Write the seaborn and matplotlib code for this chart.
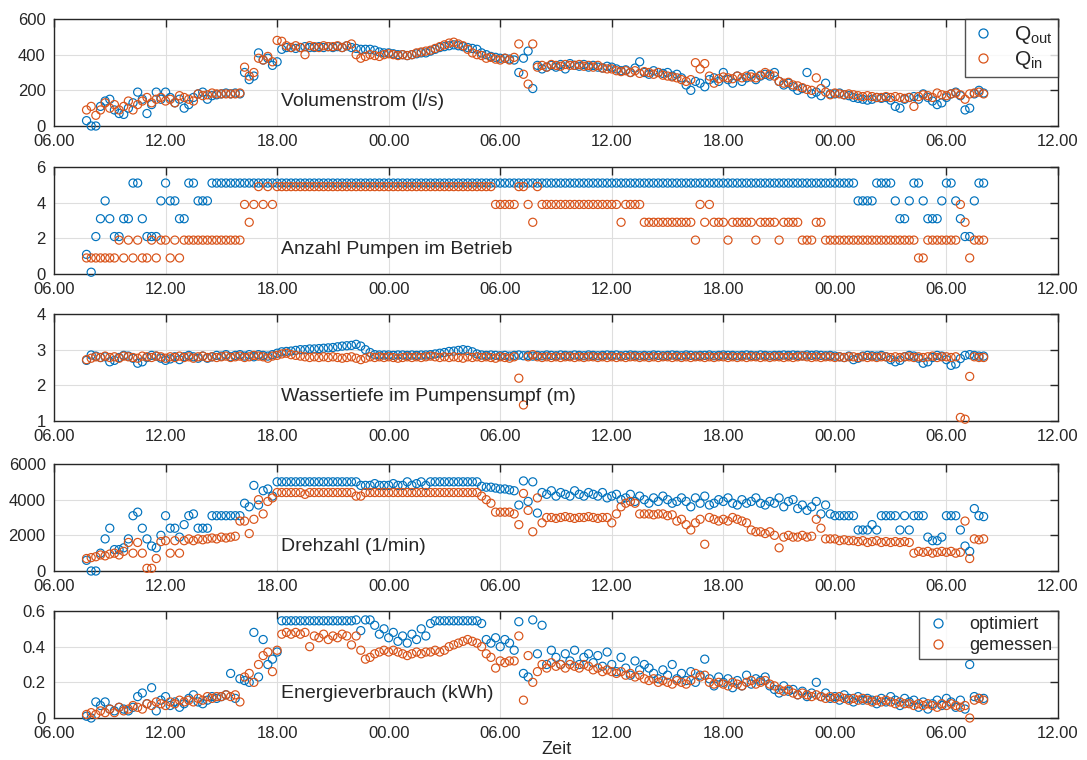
import numpy as np
import matplotlib
matplotlib.use("Agg")
import matplotlib.pyplot as plt
from matplotlib.lines import Line2D
import seaborn as sns

# ---------------------------------------------------------------------------
# Measured / optimised pump-station data, one sample every 15 minutes,
# time in hours counted from 00.00 of the first day.
# ---------------------------------------------------------------------------
T_START = 7.75
T_STEP = 0.25

Q_OUT = [30,
         0, 0, 110, 140, 150, 90, 70, 65, 100, 130, 190, 150, 70, 120, 190, 150,
         190, 160, 130, 150, 100, 120, 160, 180, 190, 150, 170, 175, 180, 185, 180, 185,
         180, 300, 260, 280, 410, 370, 380, 340, 360, 430, 440, 440, 435, 440, 445, 440,
         440, 445, 440, 445, 440, 445, 440, 450, 440, 435, 430, 430, 430, 425, 415, 410,
         410, 405, 400, 400, 395, 400, 405, 410, 410, 420, 430, 440, 445, 450, 455, 450,
         445, 440, 435, 430, 410, 400, 390, 385, 380, 380, 375, 370, 300, 380, 420, 210,
         340, 320, 330, 340, 330, 345, 320, 350, 340, 335, 345, 330, 340, 330, 325, 335,
         330, 320, 310, 315, 300, 325, 360, 300, 290, 310, 300, 295, 300, 280, 290, 270,
         230, 200, 250, 240, 220, 260, 270, 250, 300, 260, 240, 280, 250, 270, 290, 260,
         280, 290, 280, 300, 250, 230, 240, 220, 200, 210, 300, 180, 190, 170, 240, 180,
         180, 185, 175, 170, 160, 155, 150, 145, 150, 160, 155, 160, 145, 110, 100, 150,
         160, 165, 150, 180, 160, 140, 120, 130, 160, 180, 190, 170, 90, 100, 180, 200,
         185]

Q_IN = [90,
        110, 60, 90, 130, 100, 120, 90, 110, 140, 90, 120, 140, 160, 130, 150, 160,
        140, 150, 130, 170, 160, 150, 140, 180, 170, 175, 185, 180, 180, 180, 180, 180,
        185, 330, 280, 300, 380, 370, 390, 360, 480, 475, 450, 440, 450, 440, 400, 450,
        445, 440, 450, 445, 445, 450, 440, 450, 460, 400, 380, 390, 400, 395, 390, 400,
        405, 400, 395, 400, 395, 400, 410, 415, 420, 425, 435, 445, 455, 465, 470, 460,
        450, 430, 410, 400, 395, 380, 385, 375, 370, 380, 370, 385, 460, 290, 235, 460,
        330, 340, 330, 345, 340, 335, 345, 340, 340, 345, 335, 340, 330, 340, 325, 320,
        320, 310, 305, 310, 300, 310, 295, 305, 300, 290, 300, 285, 280, 275, 270, 260,
        250, 260, 355, 320, 350, 280, 240, 265, 275, 270, 265, 280, 270, 280, 275, 270,
        285, 300, 290, 280, 250, 240, 245, 230, 225, 215, 205, 200, 270, 210, 190, 175,
        185, 180, 175, 180, 175, 170, 165, 170, 165, 160, 160, 165, 160, 165, 160, 155,
        160, 110, 165, 175, 170, 160, 185, 175, 170, 180, 185, 175, 150, 180, 185, 190,
        180]

# Number of pumps running, stored as (count, number of consecutive samples)
PUMPS_OUT_RUNS = [(1, 1), (0, 1), (2, 1), (3, 1), (4, 1), (3, 1), (2, 2), (3, 2),
                  (5, 2), (3, 1), (2, 3), (4, 1), (5, 1), (4, 2), (3, 2), (5, 2),
                  (4, 3), (5, 139), (4, 4), (5, 4), (4, 1), (3, 2), (4, 1), (5, 2),
                  (4, 1), (3, 3), (4, 1), (5, 2), (4, 1), (3, 1), (2, 2), (4, 1),
                  (5, 2)]

PUMPS_IN_RUNS = [(1, 7), (2, 1), (1, 1), (2, 1), (1, 1), (2, 1), (1, 2), (2, 1),
                 (1, 1), (2, 2), (1, 1), (2, 1), (1, 1), (2, 13), (4, 1), (3, 1),
                 (4, 1), (5, 1), (4, 1), (5, 1), (4, 1), (5, 47), (4, 5), (5, 2),
                 (4, 1), (3, 1), (5, 1), (4, 17), (3, 1), (4, 4), (3, 11), (2, 1),
                 (4, 1), (3, 1), (4, 1), (3, 3), (2, 1), (3, 5), (2, 1), (3, 4),
                 (2, 1), (3, 4), (2, 3), (3, 2), (2, 20), (1, 2), (2, 7), (4, 1),
                 (3, 1), (1, 1), (2, 3)]

DEPTH_OUT = [2.70,
             2.85, 2.82, 2.78, 2.80, 2.66, 2.70, 2.78, 2.84, 2.82, 2.76, 2.62, 2.66,
             2.78, 2.84, 2.82, 2.76, 2.70, 2.74, 2.80, 2.72, 2.80, 2.84, 2.80, 2.76,
             2.82, 2.76, 2.80, 2.84, 2.82, 2.86, 2.80, 2.84, 2.86, 2.82, 2.86, 2.80,
             2.86, 2.84, 2.82, 2.86, 2.90, 2.94, 2.95, 2.96, 2.98, 3.00, 3.00, 3.02,
             3.02, 3.03, 3.04, 3.05, 3.06, 3.08, 3.10, 3.11, 3.12, 3.15, 3.10, 3.00,
             2.92, 2.86, 2.85, 2.85, 2.85, 2.84, 2.85, 2.85, 2.84, 2.85, 2.84, 2.85,
             2.85, 2.86, 2.88, 2.90, 2.92, 2.95, 2.96, 2.98, 3.00, 2.98, 2.94, 2.88,
             2.85, 2.84, 2.85, 2.84, 2.83, 2.84, 2.82, 2.84, 2.85, 2.83, 2.84, 2.82,
             2.84, 2.83, 2.85, 2.84, 2.83, 2.85, 2.84, 2.83, 2.85, 2.84, 2.83, 2.85,
             2.84, 2.83, 2.84, 2.85, 2.84, 2.85, 2.83, 2.84, 2.85, 2.84, 2.83, 2.84,
             2.83, 2.85, 2.84, 2.83, 2.84, 2.85, 2.84, 2.83, 2.85, 2.84, 2.83, 2.84,
             2.84, 2.85, 2.83, 2.84, 2.85, 2.84, 2.84, 2.83, 2.84, 2.85, 2.84, 2.83,
             2.85, 2.84, 2.83, 2.84, 2.84, 2.85, 2.84, 2.85, 2.84, 2.83, 2.85, 2.84,
             2.85, 2.84, 2.83, 2.84, 2.82, 2.80, 2.78, 2.82, 2.72, 2.76, 2.82, 2.84,
             2.83, 2.82, 2.84, 2.80, 2.72, 2.66, 2.70, 2.80, 2.84, 2.82, 2.76, 2.62,
             2.66, 2.78, 2.84, 2.82, 2.72, 2.56, 2.60, 2.75, 2.84, 2.86, 2.84, 2.82,
             2.82]

DEPTH_IN = [2.72,
            2.76, 2.80, 2.78, 2.82, 2.78, 2.80, 2.76, 2.82, 2.80, 2.78, 2.76, 2.82,
            2.80, 2.78, 2.82, 2.80, 2.76, 2.80, 2.78, 2.82, 2.78, 2.80, 2.76, 2.80,
            2.82, 2.78, 2.80, 2.78, 2.80, 2.82, 2.78, 2.80, 2.82, 2.78, 2.80, 2.84,
            2.82, 2.80, 2.76, 2.82, 2.84, 2.88, 2.90, 2.86, 2.84, 2.82, 2.80, 2.78,
            2.80, 2.78, 2.80, 2.78, 2.80, 2.78, 2.76, 2.78, 2.80, 2.76, 2.72, 2.76,
            2.80, 2.78, 2.80, 2.78, 2.80, 2.78, 2.76, 2.78, 2.80, 2.78, 2.80, 2.78,
            2.80, 2.82, 2.80, 2.78, 2.80, 2.78, 2.80, 2.78, 2.76, 2.80, 2.78, 2.80,
            2.78, 2.80, 2.78, 2.76, 2.80, 2.78, 2.76, 2.80, 2.20, 1.45, 2.80, 2.86,
            2.80, 2.78, 2.80, 2.78, 2.80, 2.78, 2.80, 2.80, 2.78, 2.80, 2.78, 2.80,
            2.80, 2.78, 2.80, 2.78, 2.80, 2.78, 2.80, 2.78, 2.80, 2.80, 2.78, 2.80,
            2.78, 2.80, 2.78, 2.80, 2.80, 2.78, 2.80, 2.78, 2.80, 2.78, 2.80, 2.80,
            2.78, 2.80, 2.78, 2.80, 2.80, 2.78, 2.80, 2.78, 2.80, 2.78, 2.80, 2.80,
            2.78, 2.80, 2.78, 2.80, 2.80, 2.78, 2.80, 2.78, 2.80, 2.82, 2.80, 2.78,
            2.80, 2.78, 2.80, 2.80, 2.78, 2.80, 2.78, 2.80, 2.80, 2.78, 2.80, 2.78,
            2.80, 2.78, 2.80, 2.80, 2.78, 2.80, 2.78, 2.80, 2.80, 2.78, 2.80, 2.78,
            2.80, 2.82, 2.78, 2.80, 2.80, 2.78, 2.80, 1.10, 1.05, 2.25, 2.80, 2.78,
            2.78]

RPM_OUT = [600,
           0, 0, 1000, 1800, 2400, 1200, 1200, 1300, 1800, 3100, 3300, 2400,
           1800, 1400, 1300, 2000, 3100, 2400, 2400, 1900, 2600, 3100, 3200, 2400,
           2400, 2400, 3100, 3100, 3100, 3100, 3100, 3100, 3100, 3800, 3600, 4800,
           3700, 4500, 4600, 4200, 5000, 5000, 5000, 5000, 5000, 5000, 5000, 5000,
           5000, 5000, 5000, 5000, 5000, 5000, 5000, 5000, 5000, 5000, 4800, 4800,
           4800, 4900, 4800, 4800, 4800, 4900, 4800, 4800, 5000, 4800, 4900, 5000,
           4800, 5000, 5000, 5000, 5000, 5000, 5000, 5000, 5000, 5000, 5000, 5000,
           4750, 4700, 4700, 4650, 4600, 4600, 4550, 4500, 3700, 5050, 3900, 5000,
           3250, 4400, 4300, 4500, 4200, 4400, 4300, 4200, 4500, 4300, 4200, 4400,
           4300, 4200, 4400, 4100, 4200, 4300, 4000, 4100, 4300, 3900, 4200, 4000,
           3800, 4100, 3900, 4200, 4000, 3800, 3900, 4100, 3900, 3600, 4100, 3800,
           4200, 3700, 3800, 4000, 3900, 4100, 3800, 3700, 4000, 3800, 3900, 4100,
           3800, 3700, 3900, 3800, 4100, 3600, 3900, 4000, 3500, 3700, 3400, 3600,
           3900, 3200, 3700, 3200, 3100, 3100, 3100, 3100, 3100, 2300, 2300, 2300,
           2600, 2300, 3100, 3100, 3100, 3100, 2300, 3100, 2300, 3100, 3100, 3100,
           1900, 1700, 1700, 1900, 3100, 3100, 3100, 2300, 1400, 1100, 3500, 3100,
           3050]

RPM_IN = [700,
          750, 800, 900, 850, 950, 1000, 900, 1100, 1600, 1000, 1600, 1000,
          150, 150, 700, 1650, 1700, 1000, 1700, 1000, 1700, 1800, 1700, 1800,
          1750, 1800, 1850, 1800, 1900, 1850, 1900, 1950, 2800, 2800, 2100, 2900,
          4000, 3200, 3900, 4100, 4400, 4400, 4400, 4400, 4400, 4400, 4300, 4400,
          4400, 4400, 4400, 4400, 4400, 4400, 4400, 4400, 4400, 4200, 4200, 4400,
          4400, 4400, 4400, 4400, 4400, 4400, 4400, 4400, 4400, 4400, 4400, 4400,
          4400, 4400, 4400, 4400, 4400, 4400, 4400, 4400, 4400, 4400, 4400, 4400,
          4200, 4000, 3800, 3300, 3300, 3300, 3300, 3200, 2600, 4350, 3400, 2200,
          4100, 2700, 3000, 3000, 2950, 3000, 3050, 3000, 2950, 3000, 3000, 3050,
          3000, 2950, 3000, 3000, 2700, 3200, 3600, 3800, 3900, 3800, 3200, 3200,
          3200, 3150, 3200, 3200, 3100, 3150, 2800, 2900, 2600, 2300, 2700, 2900,
          1500, 3000, 2900, 2800, 2900, 2800, 3000, 2900, 2800, 2700, 2300, 2200,
          2200, 2100, 2200, 2000, 1300, 1900, 2000, 1900, 1900, 2000, 1900, 1950,
          2900, 2400, 1800, 1800, 1800, 1700, 1750, 1700, 1700, 1650, 1700, 1600,
          1650, 1700, 1600, 1650, 1600, 1650, 1600, 1650, 1600, 1000, 1100, 1050,
          1100, 1000, 1050, 1100, 1050, 1100, 1000, 1050, 2800, 700, 1800, 1750,
          1800]

ENERGY_OUT = [0.01,
              0.00, 0.09, 0.07, 0.09, 0.05, 0.04, 0.06, 0.05, 0.04, 0.06, 0.12, 0.14,
              0.08, 0.17, 0.04, 0.10, 0.12, 0.07, 0.09, 0.06, 0.08, 0.11, 0.13, 0.09,
              0.08, 0.10, 0.12, 0.11, 0.12, 0.13, 0.25, 0.11, 0.22, 0.21, 0.20, 0.48,
              0.23, 0.44, 0.30, 0.33, 0.37, 0.545, 0.545, 0.545, 0.545, 0.545, 0.545, 0.545,
              0.545, 0.545, 0.545, 0.545, 0.545, 0.545, 0.545, 0.545, 0.545, 0.55, 0.49, 0.55,
              0.55, 0.52, 0.47, 0.50, 0.45, 0.48, 0.43, 0.46, 0.42, 0.47, 0.44, 0.50,
              0.46, 0.53, 0.545, 0.545, 0.545, 0.545, 0.545, 0.545, 0.545, 0.545, 0.545, 0.545,
              0.53, 0.44, 0.42, 0.45, 0.40, 0.44, 0.42, 0.38, 0.54, 0.25, 0.23, 0.55,
              0.36, 0.52, 0.30, 0.38, 0.34, 0.30, 0.36, 0.32, 0.38, 0.30, 0.34, 0.36,
              0.31, 0.35, 0.29, 0.37, 0.30, 0.26, 0.34, 0.28, 0.24, 0.32, 0.27, 0.30,
              0.28, 0.25, 0.22, 0.27, 0.24, 0.30, 0.22, 0.25, 0.21, 0.26, 0.20, 0.24,
              0.33, 0.22, 0.18, 0.23, 0.20, 0.22, 0.17, 0.21, 0.18, 0.24, 0.19, 0.22,
              0.21, 0.23, 0.18, 0.16, 0.14, 0.18, 0.15, 0.16, 0.13, 0.15, 0.12, 0.14,
              0.20, 0.12, 0.14, 0.11, 0.12, 0.10, 0.13, 0.11, 0.09, 0.12, 0.10, 0.11,
              0.10, 0.08, 0.11, 0.09, 0.12, 0.10, 0.07, 0.11, 0.09, 0.10, 0.06, 0.09,
              0.05, 0.08, 0.10, 0.07, 0.11, 0.09, 0.06, 0.10, 0.05, 0.30, 0.12, 0.11,
              0.11]

ENERGY_IN = [0.02,
             0.03, 0.02, 0.04, 0.03, 0.05, 0.03, 0.06, 0.04, 0.05, 0.07, 0.06, 0.05,
             0.08, 0.07, 0.09, 0.08, 0.07, 0.09, 0.08, 0.10, 0.09, 0.10, 0.09, 0.11,
             0.10, 0.12, 0.11, 0.12, 0.12, 0.13, 0.12, 0.13, 0.09, 0.23, 0.25, 0.20,
             0.30, 0.35, 0.37, 0.26, 0.38, 0.47, 0.48, 0.47, 0.48, 0.47, 0.48, 0.40,
             0.46, 0.45, 0.47, 0.44, 0.46, 0.45, 0.47, 0.46, 0.41, 0.46, 0.38, 0.33,
             0.34, 0.36, 0.37, 0.38, 0.37, 0.38, 0.37, 0.36, 0.35, 0.36, 0.37, 0.36,
             0.37, 0.37, 0.38, 0.37, 0.38, 0.40, 0.41, 0.42, 0.43, 0.44, 0.43, 0.42,
             0.40, 0.36, 0.34, 0.28, 0.32, 0.31, 0.32, 0.32, 0.46, 0.10, 0.35, 0.20,
             0.26, 0.30, 0.28, 0.31, 0.29, 0.30, 0.28, 0.30, 0.29, 0.28, 0.30, 0.29,
             0.27, 0.28, 0.26, 0.27, 0.26, 0.25, 0.26, 0.24, 0.25, 0.23, 0.24, 0.22,
             0.21, 0.22, 0.20, 0.21, 0.20, 0.19, 0.21, 0.20, 0.19, 0.21, 0.25, 0.23,
             0.24, 0.20, 0.19, 0.20, 0.19, 0.18, 0.20, 0.19, 0.18, 0.20, 0.21, 0.19,
             0.20, 0.21, 0.19, 0.18, 0.16, 0.15, 0.16, 0.14, 0.13, 0.14, 0.13, 0.12,
             0.13, 0.12, 0.11, 0.12, 0.11, 0.12, 0.11, 0.10, 0.11, 0.10, 0.11, 0.10,
             0.09, 0.10, 0.09, 0.10, 0.09, 0.08, 0.09, 0.08, 0.08, 0.07, 0.08, 0.07,
             0.08, 0.07, 0.06, 0.08, 0.07, 0.08, 0.07, 0.06, 0.07, 0.00, 0.10, 0.11,
             0.10]

PANEL_TITLES = ["Volumenstrom (l/s)", "Anzahl Pumpen im Betrieb",
                "Wassertiefe im Pumpensumpf (m)", "Drehzahl (1/min)",
                "Energieverbrauch (kWh)"]
Y_LIMITS = [(0, 600), (0, 6), (1, 4), (0, 6000), (0, 0.6)]
Y_TICKS = [[0, 200, 400, 600], [0, 2, 4, 6], [1, 2, 3, 4],
           [0, 2000, 4000, 6000], [0, 0.2, 0.4, 0.6]]
Y_TICK_LABELS = [["0", "200", "400", "600"], ["0", "2", "4", "6"],
                 ["1", "2", "3", "4"], ["0", "2000", "4000", "6000"],
                 ["0", "0.2", "0.4", "0.6"]]
X_TICKS = [6, 12, 18, 24, 30, 36, 42, 48, 54, 60]
X_TICK_LABELS = ["06.00", "12.00", "18.00", "00.00", "06.00",
                 "12.00", "18.00", "00.00", "06.00", "12.00"]
LEGEND_TOP = ["Q$_{\\mathrm{out}}$", "Q$_{\\mathrm{in}}$"]
LEGEND_BOTTOM = ["optimiert", "gemessen"]
X_LABEL = "Zeit"

# ---------------------------------------------------------------------------
BLUE = "#0072BD"
ORANGE = "#D95319"
INK = "#262626"
PUMP_OFFSET = 0.1   # small vertical shift so both pump series stay visible


def expand_runs(runs):
    return np.repeat([v for v, _ in runs], [n for _, n in runs]).astype(float)


def times(values):
    return T_START + T_STEP * np.arange(len(values))


pumps_out = expand_runs(PUMPS_OUT_RUNS) + PUMP_OFFSET
pumps_in = expand_runs(PUMPS_IN_RUNS) - PUMP_OFFSET

series = [(Q_OUT, Q_IN), (pumps_out, pumps_in), (DEPTH_OUT, DEPTH_IN),
          (RPM_OUT, RPM_IN), (ENERGY_OUT, ENERGY_IN)]

sns.set_theme(style="white")
plt.rcParams["font.family"] = ["Liberation Sans", "DejaVu Sans"]
plt.rcParams["mathtext.fontset"] = "custom"
plt.rcParams["mathtext.rm"] = "Liberation Sans"

fig = plt.figure(figsize=(10.87, 7.6), dpi=100)
fig.patch.set_facecolor("white")

left, width, height = 54 / 1087, 1004 / 1087, 107 / 760
bottoms = [1 - 126 / 760, 1 - 274 / 760, 1 - 421 / 760, 1 - 571 / 760, 1 - 718 / 760]

for i, ((y_out, y_in), title) in enumerate(zip(series, PANEL_TITLES)):
    ax = fig.add_axes([left, bottoms[i], width, height])
    ax.set_facecolor("white")
    for vals, col in ((y_out, BLUE), (y_in, ORANGE)):
        sns.scatterplot(x=times(vals), y=np.asarray(vals, dtype=float), ax=ax,
                        color=col, facecolor="none", edgecolor=col,
                        s=34, linewidth=0.85, legend=False, clip_on=False,
                        zorder=3)
    ax.set_xlim(6, 60)
    ax.set_ylim(*Y_LIMITS[i])
    ax.set_xticks(X_TICKS)
    ax.set_xticklabels(X_TICK_LABELS)
    ax.set_yticks(Y_TICKS[i])
    ax.set_yticklabels(Y_TICK_LABELS[i])
    ax.set_xlabel("")
    ax.set_ylabel("")
    ax.grid(True, color="#dedede", linewidth=0.8)
    ax.set_axisbelow(True)
    ax.tick_params(direction="in", length=6, width=1.0, color=INK,
                   labelcolor=INK, labelsize=12, top=True, right=True)
    ax.tick_params(axis="x", pad=5.5)
    ax.tick_params(axis="y", pad=6)
    for sp in ax.spines.values():
        sp.set_visible(True)
        sp.set_color(INK)
        sp.set_linewidth(1.0)
    ax.text(0.226, 0.23, title, transform=ax.transAxes, ha="left",
            va="center", fontsize=14, color=INK, zorder=4)

    if i == 0:
        handles = [Line2D([], [], ls="none", marker="o", mfc="none", mec=c,
                          ms=6.5, mew=0.9) for c in (BLUE, ORANGE)]
        leg = ax.legend(handles, LEGEND_TOP, loc="upper right",
                        bbox_to_anchor=(1.0, 1.0), borderaxespad=0,
                        fontsize=15, frameon=True, fancybox=False,
                        handlelength=1.2, handletextpad=0.9,
                        borderpad=0.25, labelspacing=0.15)
        leg.get_frame().set_edgecolor(INK)
        leg.get_frame().set_linewidth(1.0)
        leg.set_zorder(5)
    if i == 4:
        handles = [Line2D([], [], ls="none", marker="o", mfc="none", mec=c,
                          ms=6.5, mew=0.9) for c in (BLUE, ORANGE)]
        leg = ax.legend(handles, LEGEND_BOTTOM, loc="upper right",
                        bbox_to_anchor=(1.0, 1.0), borderaxespad=0,
                        fontsize=13, frameon=True, fancybox=False,
                        handlelength=1.5, handletextpad=1.0,
                        borderpad=0.3, labelspacing=0.2)
        leg.get_frame().set_edgecolor(INK)
        leg.get_frame().set_linewidth(1.0)
        leg.set_zorder(5)
        ax.set_xlabel(X_LABEL, fontsize=13, color=INK, labelpad=0)

fig.savefig("out.png", dpi=100, facecolor="white")
